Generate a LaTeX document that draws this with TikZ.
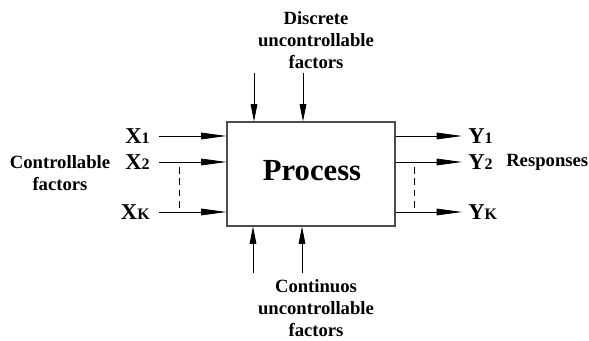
\documentclass[tikz,border=0pt]{standalone}
\usepackage{fontspec}
\setmainfont{Liberation Serif}
\usetikzlibrary{arrows.meta}

\newcommand{\io}[2]{#1{\fontsize{12}{12}\selectfont #2}}

\tikzset{
  box/.style={draw=black!70,line width=0.8pt,minimum width=126pt,minimum height=78pt,
    font=\fontsize{23}{26}\selectfont\bfseries},
  io/.style={inner sep=0pt,font=\fontsize{17}{20}\selectfont\bfseries},
  txt/.style={align=center,font=\fontsize{14}{16.5}\selectfont\bfseries},
  hor/.style={line width=0.6pt,-{Triangle[length=19pt,width=5pt]}},
  ver/.style={line width=0.6pt,-{Triangle[length=13pt,width=5pt]}},
  dsh/.style={line width=0.6pt,dash pattern=on 5pt off 3.5pt}
}

\begin{document}
\begin{tikzpicture}[x=0.75pt,y=-0.75pt]
\useasboundingbox (0,0) rectangle (589,341);
\node[box] (proc) at (311,174) {};
\node[font=\fontsize{23}{26}\selectfont\bfseries] (ptxt) at (312,171) {Process};

% inputs
\node[io,anchor=east] (x1) at (150,136) {\io{X}{1}};
\node[io,anchor=east] (x2) at (150,162) {\io{X}{2}};
\node[io,anchor=east] (xk) at (150,212) {\io{X}{K}};
\draw[hor,shorten <=7pt] (x1.east) -- (proc.west |- x1);
\draw[hor,shorten <=7pt] (x2.east) -- (proc.west |- x2);
\draw[hor,shorten <=7pt] (xk.east) -- (proc.west |- xk);
\draw[dsh] (179,167) -- (179,211);
\node[txt] (ctrl) at (60,173) {Controllable\\factors};

% outputs
\node[io,anchor=west] (y1) at (468,136) {\io{Y}{1}};
\node[io,anchor=west] (y2) at (468,162) {\io{Y}{2}};
\node[io,anchor=west] (yk) at (468,212) {\io{Y}{K}};
\draw[hor,shorten >=4.5pt] (proc.east |- y1) -- (y1.west);
\draw[hor,shorten >=4.5pt] (proc.east |- y2) -- (y2.west);
\draw[hor,shorten >=4.5pt] (proc.east |- yk) -- (yk.west);
\draw[dsh] (414,167) -- (414,211);
\node[txt,anchor=west,inner sep=0pt] (resp) at (506,162) {Responses};

% noise factors
\node[txt] (disc) at (316,40) {Discrete\\uncontrollable\\factors};
\coordinate (d1) at (254,73);
\coordinate (d2) at (303,73);
\draw[ver] (d1) -- (d1 |- proc.north);
\draw[ver] (d2) -- (d2 |- proc.north);

\node[txt] (cont) at (316,308) {Continuos\\uncontrollable\\factors};
\coordinate (c1) at (253,273);
\coordinate (c2) at (302,273);
\draw[ver] (c1) -- (c1 |- proc.south);
\draw[ver] (c2) -- (c2 |- proc.south);
\end{tikzpicture}
\end{document}
